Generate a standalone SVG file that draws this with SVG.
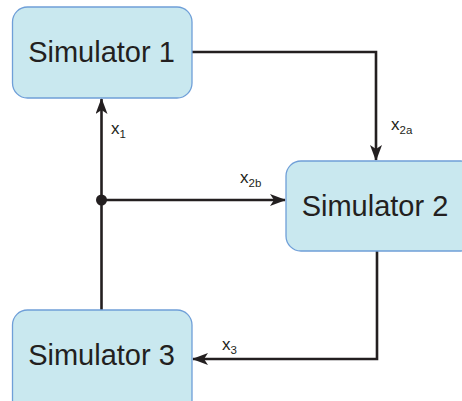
<svg xmlns="http://www.w3.org/2000/svg" width="462" height="401" viewBox="0 0 462 401">
<style>
.box{fill:#c9e8ef;stroke:#6f9fd8;stroke-width:1.3}
.t{font-family:"Liberation Sans",Arial,sans-serif;font-size:29px;fill:#231f20;text-anchor:middle}
.l{font-family:"Liberation Sans",Arial,sans-serif;font-size:17px;fill:#231f20}
.s{font-size:11.5px}
.c{fill:none;stroke:#231f20;stroke-width:2.6}
</style>
<defs>
<marker id="ah" viewBox="0 0 16 12" refX="15" refY="6" markerWidth="16" markerHeight="12" markerUnits="userSpaceOnUse" orient="auto">
<path d="M0,0 L16,6 L0,12 L4,6 Z" fill="#231f20"/>
</marker>
</defs>
<g id="connectors">
<polyline class="c" points="192,52 376,52 376,160" marker-end="url(#ah)"/>
<line class="c" x1="101.5" y1="310" x2="101.5" y2="99" marker-end="url(#ah)"/>
<line class="c" x1="101.5" y1="200" x2="285" y2="200" marker-end="url(#ah)"/>
<polyline class="c" points="377,251 377,359 193,359" marker-end="url(#ah)"/>
<circle cx="101.5" cy="200" r="5.5" fill="#231f20"/>
<text class="l" x="111" y="134">x<tspan class="s" dy="4">1</tspan></text>
<text class="l" x="391" y="130">x<tspan class="s" dy="4">2a</tspan></text>
<text class="l" x="240" y="183">x<tspan class="s" dy="4">2b</tspan></text>
<text class="l" x="222" y="350">x<tspan class="s" dy="4">3</tspan></text>
</g>
<g id="sim1">
<rect class="box" x="12.5" y="7" width="179.5" height="91" rx="15"/>
<text class="t" x="101.5" y="62">Simulator 1</text>
</g>
<g id="sim2">
<rect class="box" x="286" y="161" width="190" height="90" rx="15"/>
<text class="t" x="375" y="216">Simulator 2</text>
</g>
<g id="sim3">
<rect class="box" x="12.5" y="310" width="179.5" height="105" rx="15"/>
<text class="t" x="101.5" y="365">Simulator 3</text>
</g>
</svg>
